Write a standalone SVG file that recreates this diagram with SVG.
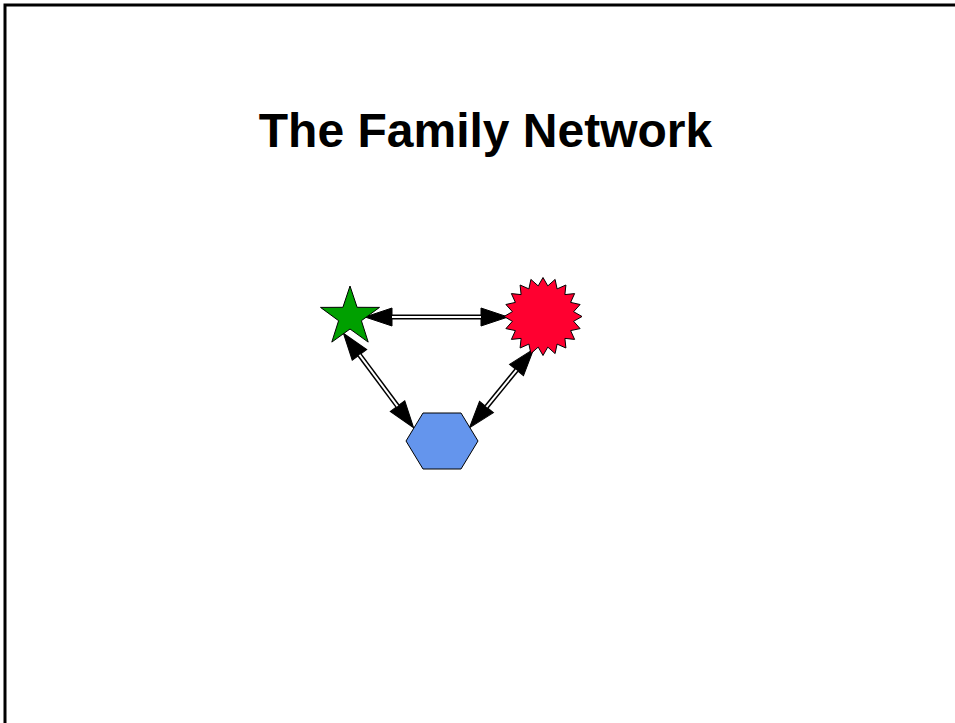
<svg xmlns="http://www.w3.org/2000/svg" width="955" height="723" viewBox="0 0 955 723">
<defs>
<style>
.title{font-family:"Liberation Sans",Arial,sans-serif;font-weight:bold;font-size:48px;fill:#000}
.node{stroke:#000;stroke-width:1}
.edge-outer{stroke:#000;stroke-width:5;fill:none}
.edge-inner{stroke:#fff;stroke-width:2;fill:none}
</style>
<marker id="arrow" markerUnits="userSpaceOnUse" markerWidth="30" markerHeight="22" refX="0" refY="9" orient="auto-start-reverse" viewBox="0 0 30 18" overflow="visible">
<path d="M0,0 L27,9 L0,18 Z" fill="#000" stroke="#000" stroke-width="1"/>
</marker>
</defs>
<rect x="0" y="0" width="955" height="723" fill="#fff"/>
<rect x="5" y="5" width="970" height="740" fill="none" stroke="#000" stroke-width="3"/>
<text class="title" x="485.5" y="147" text-anchor="middle">The Family Network</text>
<g id="connectors">
<g id="edge-star-burst">
<path class="edge-outer" d="M392,317 L481,317" marker-start="url(#arrow)" marker-end="url(#arrow)"/>
<path class="edge-inner" d="M392,317 L481,317"/>
</g>
<g id="edge-star-hex">
<path class="edge-outer" d="M359.5,354.9 L397.5,406.1" marker-start="url(#arrow)" marker-end="url(#arrow)"/>
<path class="edge-inner" d="M359.5,354.9 L397.5,406.1"/>
</g>
<g id="edge-burst-hex">
<path class="edge-outer" d="M516.5,370.1 L486.5,406.9" marker-start="url(#arrow)" marker-end="url(#arrow)"/>
<path class="edge-inner" d="M516.5,370.1 L486.5,406.9"/>
</g>
</g>
<g id="node-star">
<polygon class="node" fill="#00a000" points="350,286 357.1,307.3 379.5,307.4 361.4,320.7 368.2,342.1 350,329 331.8,342.1 338.6,320.7 320.5,307.4 342.9,307.3"/>
</g>
<g id="node-burst">
<polygon class="node" fill="#ff0030" points="543,277.5 547.8,285.9 555.1,279.4 557.1,288.9 565.9,285 564.9,294.6 574.6,293.6 570.6,302.4 580.1,304.5 573.6,311.7 582,316.5 573.6,321.3 580.1,328.6 570.6,330.6 574.6,339.4 564.9,338.4 565.9,348 557.1,344.1 555.1,353.6 547.8,347.1 543,355.5 538.2,347.1 530.9,353.6 528.9,344.1 520.1,348 521.1,338.4 511.4,339.4 515.4,330.6 505.9,328.6 512.4,321.3 504,316.5 512.4,311.7 505.9,304.5 515.4,302.4 511.4,293.6 521.1,294.6 520.1,285 528.9,288.9 530.9,279.4 538.2,285.9"/>
</g>
<g id="node-hex">
<polygon class="node" fill="#6495ed" points="406,441 423,413 461,413 478,441 461,469 423,469"/>
</g>
</svg>
